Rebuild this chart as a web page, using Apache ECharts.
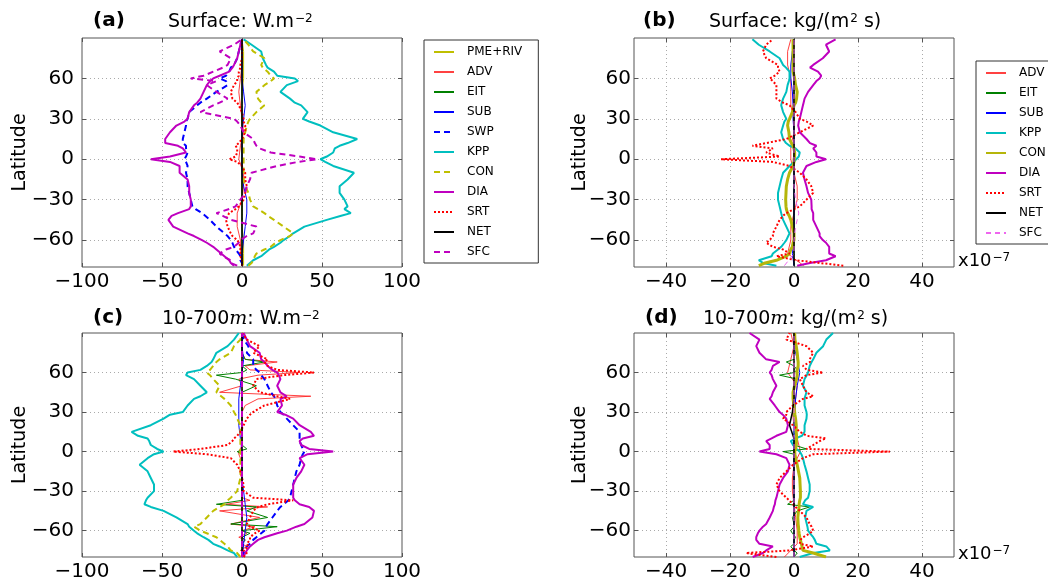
<!DOCTYPE html>
<html>
<head>
<meta charset="utf-8">
<script src="https://cdn.jsdelivr.net/npm/echarts@6/dist/echarts.min.js"></script>
<style>
  html, body { margin: 0; padding: 0; background: #fff; }
  #main { width: 1048px; height: 582px; }
</style>
</head>
<body>
<div id="main"></div>
<script>
// latitude grids (surface panels end at 89, 10-700m panels at 90)
var LAT = [-79,-77,-75,-72,-70,-67,-65,-62,-60,-57,-55,-50,-45,-42,-40,-37,-35,-30,-25,-20,-15,-10,-5,-2,0,2,5,8,10,12,15,20,25,28,30,35,40,42,45,50,55,58,60,62,65,68,70,75,80,85,89];
var LAT_SUB = [-80,-77,-75,-72,-70,-67,-65,-62,-60,-57,-55,-50,-45,-42,-40,-37,-35,-30,-25,-20,-15,-10,-5,-2,0,2,5,8,10,12,15,20,25,28,30,35,40,42,45,50,55,58,60,62,65,68,70,75,80,85,90];
var COARSE = [-79,-70,-60,-50,-40,-30,-20,-10,0,10,20,30,40,50,60,70,80,89];
var COARSE_SUB = [-80,-70,-60,-50,-40,-30,-20,-10,0,10,20,30,40,50,60,70,80,90];

var latTicks = [-60, -30, 0, 30, 60];
var wTicks = [-100, -50, 0, 50, 100];
var kgTicks = [-40, -20, 0, 20, 40];

// (a) Surface heat, W/m2
var a_PME = [1,1,1,0,0,0,0,0,0,0,0,0,0,0,1,1,1,0];
var a_ADV = [0,-1,-1,-3,-3,0,1,1,-2,-1,1,0,-1,-2,-1,0,0,0];
var a_EIT = [0,0,0,0,0,0,0,0,0,0,0,0,0,0,0,0,0,0];
var a_SUB = [0,0,1,2,3,3,1,0,0,0,0,1,2,1,0,0,0,0];
var a_SWP = [0,0,-1,-1,-2, -4,-5,-6,-7,-9, -11,-16,-20,-23,-25, -29,-31,-32,-33,-34, -34,-35,-34,-35,-36, -35,-34,-35,-35,-37, -37,-36,-35,-35,-34, -33,-28,-26,-22,-16, -9,-10,-14,-10,-8, -7,-5,-3,-2,-1, 0];
var a_KPP = [3,5,7,12,14, 17,20,24,26,30, 32,39,53,62,68, 64,66,64,61,61, 66,70,57,52,49, 53,57,58,61,66, 72,57,49,42,38, 41,37,33,30,24, 28,35,33,22,20, 16,15,13,12,6, 1];
var a_CON = [4,6,7,8,9, 14,18,21,24,30, 32,26,20,16,14, 10,7,5,4,2, 1,1,1,1,1, 1,1,1,1,1, 1,2,3,4,5, 9,14,12,10,9, 14,18,20,18,16, 13,12,14,7,4, 1];
var a_DIA = [-5,-7,-8,-11,-13, -16,-18,-22,-25,-30, -34,-43,-46,-44,-40, -33,-32,-32,-33,-33, -34,-39,-39,-45,-57, -45,-35,-37,-40,-48, -48,-45,-41,-36,-34, -33,-30,-28,-26,-24, -22,-20,-18,-14,-8, -6,-5,-3,-2,-1, 0];
var a_SRT = [0,0,0,-1,-1, -1,-1,-2,-3,-6, -7,-9,-10,-9,-8, -4,-2,1,2,3, 2,2,0,-3,-8, -4,-3,-3,-4,-2, 0,2,2,1,1, 0,-2,-3,-6,-7, -5,-3,-3,-2,-2, -1,-1,0,0,0, 0];
var a_NET = [0,0,0,0,0,0,0,0,0,0,0,0,0,0,0,0,0,0];
var a_SFC = [-3,-7,-7,-12,-14, -10,-5,-2,-1,3, 7,9,-7,-12,-16, -8,-4,-1,2,3, 5,6,22,35,47, 36,18,11,9,8, 7,1,-1,-3,-5, -26,-18,-14,-9,-16, -22,-16,-32,-24,-18, -12,-9,-7,-14,-5, 0];

// (b) Surface salt, kg/(m2 s) x1e-7
var b_ADV = [3,-2,-1,-1,0,1,1,0,-1,-1,0,0,-1,-1,-1,-2,-2,-1];
var b_EIT = [0,0,0,0,0,0,0,0,0,0,0,0,0,0,0,-0.5,-0.5,0];
var b_SUB = [0,-0.5,0,0,0,0,0,0,0,0,0,-0.3,-0.3,-0.5,-1,-1,-0.5,0];
var b_KPP = [-5.5,-9.7,-11,-7,-6.6, -5,-4,-3,-2.4,-1.8, -1.4,-2.4,-3.4,-3.8,-4, -4.3,-4.5,-5,-5,-4.5, -4,-3.4,-1.4,0,0.7, 1.5,1.8,0.5,-1.4,-2.5, -3.4,-4,-3.4,-3,-2.4, -3.4,-4,-3.8,-3.4,-2.4, -2,-1.6,-1.4,-1.4,-1.4, -2.5,-3.4,-4.5,-7.6,-11, -13];
var b_CON = [-11,-9,-5.5,-2.4,-1.4, -1,-0.5,-0.3,0,0, 0,-0.5,-1,-1.5,-2, -2.4,-2.5,-2.6,-2.5,-2.4, -2,-1.4,-0.3,0,0, 0.2,0.2,0,-0.3,-0.8, -1.4,-1.6,-2,-1.8,-1.4, -0.5,0,0.5,0.8,1, 0.5,0.3,0.2,0,-0.3, -0.3,-0.3,-0.3,-0.3,-0.3, -0.3];
var b_DIA = [1,5,10,13,11, 11,11,10,9,8, 8,7,6,6,6, 5.5,5.5,5.4,4.4,3.9, 3.3,2.8,3.9,7,10, 7,7,6,7,5, 3.9,1.8,1.3,1.5,1.8, 2.3,2.8,3,3.3,4.4, 6,7,8,8.5,7.5, 5,6,9,11,10, 13];
var b_SRT = [15.4,8,0.7,-5.5,-1.4, -3.4,-6.6,-8.7,-7.6,-6.6, -6.6,-5.5,-4.5,-3.4,-2.4, 0,1.8,3.9,6,5.4, 3.9,1.8,-1.4,-6.6,-22.8, -4.5,-8.7,-6.6,-13,-8.7, -2.4,1.8,6,3.9,1.8, 0.5,-1.4,-3.4,-5.5,-5.5, -5.5,-6.6,-7.6,-6,-4.5, -5,-5,-8.7,-9.7,-8.7, -6.6];
var b_NET = [0,0,0,0,0,0,0,0,0,0,0,0,0,0,0,0,0,0];
var b_SFC = [-3,0,0,0.5,1.5,0.5,0,0,0,0,0,0,0,0,0,0,0,0];

// (c) 10-700m heat, W/m2
var c_PME = [0,0,0,0,0,0,0,0,0,0,0,0,0,0,0,0,0,0];
var c_ADV = [0,2,-1,3,0, 2,-2,3,0,8, -7,11,-14,16,-10, 5,0,0,0,0, 0,0,-1,-2,-2, -1,0,0,0,0, 0,0,0,0,0, 2,10,43,-14,0, -2,10,36,5,2, 22,2,0,0,0, 0];
var c_EIT = [0,2,0,1,0, 2,0,5,0,22, -7,16,3,9,-16, 0,0,0,0,0, 0,0,0,0,-3, 3,0,0,0,0, 0,0,0,0,0, 0,0,0,0,9, -4,-16,0,3,0, 14,2,0,0,0, 0];
var c_SUB = [0,1,2,3,2,1,0,0,0,-1,-2,-2,-2,-1,0,1,0,0];
var c_SWP = [0,1,2,3,5, 7,9,12,14,15, 16,19,22,24,26, 29,30,31,32,33, 34,36,37,38,39, 38,37,36,36,36, 36,32,28,26,24, 22,21,20,18,16, 14,12,11,9,7, 7,7,3,4,1, 0];
var c_KPP = [-3,-5,-9,-14,-18, -21,-24,-28,-30,-33, -34,-41,-49,-57,-61, -60,-59,-55,-55,-57, -59,-64,-59,-55,-49, -53,-57,-58,-59,-65, -69,-57,-49,-45,-37, -34,-30,-26,-22,-26, -30,-35,-34,-26,-22, -19,-18,-16,-9,-5, -2];
var c_CON = [-1,-3,-7,-9,-11, -14,-16,-22,-26,-30, -26,-22,-18,-14,-11, -9,-7,-3,-2,-1, -1,-1,-1,-1,-1, -1,-1,-1,-1,-1, -1,-1,-3,-4,-5, -7,-11,-13,-16,-14, -18,-20,-22,-20,-18, -16,-14,-7,-5,-1, 0];
var c_DIA = [1,2,3,5,7, 10,14,22,28,34, 39,44,45,42,36, 33,32,32,32,34, 37,39,36,41,57, 42,37,36,38,45, 43,36,32,27,22, 25,24,28,24,22, 24,23,22,19,16, 14,12,11,5,3, 1];
var c_SRT = [1,3,1,4,3, 5,5,8,11,5, 3,5,7,10,16, 32,7,1,1,0, -1,-3,-7,-22,-43, -26,-9,-6,-5,-3, -1,1,3,5,7, 14,30,22,11,7, 9,26,45,22,16, 14,16,7,11,3, 0];
var c_NET = [0,0,0,0,0,0,0,0,0,0,0,0,0,0,0,0,0,0];
var c_SFC = [0,0,0,0,0,0,0,0,0,0,0,0,0,0,0,0,0,0];

// (d) 10-700m salt, kg/(m2 s) x1e-7
var d_ADV = [-3,1,1,0.5,0,-0.5,-0.5,0,2,1,0,-0.5,0.5,1,-2,-1,0,-1];
var d_EIT = [0,1,0,-1,0, 0,0.5,-0.5,-1,0, 0,-0.5,1,4.9,-2, 0,0,0,0,0, 0,0,0,0,-3.4, 3.9,0,0,0,0, 0,0,0,0,0, 0,0.5,0,0,0, 1,-4.5,0,1,0, -2.4,0,0,0,0, 0];
var d_SUB = [0,0,0,0,0,0,0,0,0,0,0,0.3,0.5,1,1.8,1,0,0];
var d_KPP = [1.8,6,11.2,10.1,7, 6.5,6,5,4.4,4.2, 4,3.5,3.9,6,2.8, 3.5,4.4,4.9,4.9,4.4, 3.9,3.3,2.8,2.3,1.8, 0.8,-0.3,-1,0.5,2.5, 3.3,3.3,3.9,4,3.9, 3.3,3.3,3.5,3.9,2.8, 3.3,4,4.4,4.6,4.9, 5.5,6,7,9.1,10.1, 12.2];
var d_CON = [10,6,2.8,2.5,2.3, 2,1.8,1.6,1.5,1.4, 1.3,1.2,1.4,1.6,1.6, 1.8,2,2,1.9,1.8, 1.4,1,0.5,0.3,0.2, 0.5,0.7,0.8,0.8,0.8, 0.7,0.7,0.5,0.3,0.2, 0,-0.3,-0.3,-0.3,0.2, 0.8,1,0.9,1,1.3, 1.3,1.2,1,0.7,0.3, 0.2];
var d_DIA = [-12.9,-9.7,-8.7,-6.6,-10.8, -11.8,-11.8,-11.3,-10.8,-9.7, -8.7,-7.6,-6.6,-6.3,-6, -5.8,-5.5,-5,-4.5,-3.4, -1.9,-1.4,-2.4,-5.5,-10.8, -7.6,-7.6,-8.7,-7,-5.5, -2.4,-1.9,-2.4,-3.5,-4.5, -6,-7.6,-7,-6.6,-5.5, -6.6,-7,-7.6,-7,-6.6, -4.5,-8.7,-10.8,-11.8,-10.8, -13.9];
var d_SRT = [-5.5,-15,-1.4,6,1.8, 2,2.8,5,6,5.5, 4.9,3.9,1.8,0.5,-0.3, -1.5,-2.4,-4.5,-5.5,-4.5, -2.4,-0.3,2.8,6,30, 3.9,6,8,10,4, 1.8,-0.3,-3.4,-2.4,-2.4, -0.3,2.8,6,3.9,2.8, 1.8,3.9,9.1,4,2.8, 5,4.9,6,3.9,-2.4, -1.4];
var d_NET = [0,0,0,0,0,0,0,0,0,0,-1.4,-0.5,0,0,0,0,0,0];
var d_SFC = [0,0,0,0,0,0,0,0,0,0,0,0,0,0,0,0,0,0];

var FONT = "DejaVu Sans";

// line styles per term
var st = {
    PME: { color: "#bfbf00", width: 1 },
    ADV: { color: "#ff2020", width: 1, opacity: 0.85 },
    EIT: { color: "#008000", width: 1 },
    SUB: { color: "#0000ff", width: 1 },
    SWP: { color: "#0000ff", width: 2, type: [6, 4] },
    KPP: { color: "#00bfbf", width: 2 },
    CON: { color: "#bfbf00", width: 2, type: [6, 4] },
    CONs: { color: "#b5b50a", width: 3 },
    DIA: { color: "#bf00bf", width: 2 },
    SRT: { color: "#ff0000", width: 2, type: [2, 2] },
    NET: { color: "#000000", width: 1.5 },
    SFC: { color: "#bf00bf", width: 2, type: [6, 4] },
    SFCs: { color: "#ee66ee", width: 1, type: [5, 4] }
};

function line(name, panel, lats, vals, style) {
    var pts = [];
    for (var i = 0; i < vals.length; i++) {
        pts.push([vals[i], lats[i]]);
    }
    return {
        type: "line", name: name, xAxisIndex: panel, yAxisIndex: panel,
        data: pts, symbol: "none", showSymbol: false, silent: true,
        animation: false, lineStyle: style, itemStyle: { color: style.color }
    };
}

var series = [
    line("PME+RIV", 0, COARSE, a_PME, st.PME),
    line("ADV", 0, COARSE, a_ADV, st.ADV),
    line("EIT", 0, COARSE, a_EIT, st.EIT),
    line("SUB", 0, COARSE, a_SUB, st.SUB),
    line("SWP", 0, LAT, a_SWP, st.SWP),
    line("KPP", 0, LAT, a_KPP, st.KPP),
    line("CON", 0, LAT, a_CON, st.CON),
    line("DIA", 0, LAT, a_DIA, st.DIA),
    line("SRT", 0, LAT, a_SRT, st.SRT),
    line("NET", 0, COARSE, a_NET, st.NET),
    line("SFC", 0, LAT, a_SFC, st.SFC),

    line("b:ADV", 1, COARSE, b_ADV, st.ADV),
    line("b:EIT", 1, COARSE, b_EIT, st.EIT),
    line("b:SUB", 1, COARSE, b_SUB, st.SUB),
    line("b:KPP", 1, LAT, b_KPP, st.KPP),
    line("b:CON", 1, LAT, b_CON, st.CONs),
    line("b:DIA", 1, LAT, b_DIA, st.DIA),
    line("b:SRT", 1, LAT, b_SRT, st.SRT),
    line("b:NET", 1, COARSE, b_NET, st.NET),
    line("b:SFC", 1, COARSE, b_SFC, st.SFCs),

    line("PME+RIV", 2, COARSE_SUB, c_PME, st.PME),
    line("ADV", 2, LAT_SUB, c_ADV, st.ADV),
    line("EIT", 2, LAT_SUB, c_EIT, st.EIT),
    line("SUB", 2, COARSE_SUB, c_SUB, st.SUB),
    line("SWP", 2, LAT_SUB, c_SWP, st.SWP),
    line("KPP", 2, LAT_SUB, c_KPP, st.KPP),
    line("CON", 2, LAT_SUB, c_CON, st.CON),
    line("DIA", 2, LAT_SUB, c_DIA, st.DIA),
    line("SRT", 2, LAT_SUB, c_SRT, st.SRT),
    line("NET", 2, COARSE_SUB, c_NET, st.NET),
    line("SFC", 2, COARSE_SUB, c_SFC, st.SFC),

    line("b:ADV", 3, COARSE_SUB, d_ADV, st.ADV),
    line("b:EIT", 3, LAT_SUB, d_EIT, st.EIT),
    line("b:SUB", 3, COARSE_SUB, d_SUB, st.SUB),
    line("b:KPP", 3, LAT_SUB, d_KPP, st.KPP),
    line("b:CON", 3, LAT_SUB, d_CON, st.CONs),
    line("b:DIA", 3, LAT_SUB, d_DIA, st.DIA),
    line("b:SRT", 3, LAT_SUB, d_SRT, st.SRT),
    line("b:NET", 3, COARSE_SUB, d_NET, st.NET),
    line("b:SFC", 3, COARSE_SUB, d_SFC, st.SFCs)
];

var grids = [
    { left: 82, top: 38, width: 320, height: 229 },
    { left: 634, top: 38, width: 320, height: 229 },
    { left: 82, top: 333, width: 320, height: 230 },
    { left: 634, top: 333, width: 320, height: 230 }
];

function minus(v) { return String(v).replace("-", "\u2212"); }

var gridLine = { show: true, lineStyle: { color: "#aaa", type: [1, 3], width: 1 } };
var tickStyle = { color: "#555" };
var noLine = { show: false, onZero: false };

function xAx(i, lo, hi, ticks) {
    return {
        type: "value", gridIndex: i, min: lo, max: hi, position: "bottom",
        axisLine: noLine,
        axisTick: { show: true, inside: true, length: 4, customValues: ticks, lineStyle: tickStyle },
        axisLabel: { customValues: ticks, formatter: minus, color: "#000", fontSize: 20, fontFamily: FONT, margin: 5 },
        splitLine: gridLine
    };
}
function xTop(i, lo, hi, ticks) {
    return {
        type: "value", gridIndex: i, min: lo, max: hi, position: "top",
        axisLine: noLine,
        axisTick: { show: true, inside: true, length: 4, customValues: ticks, lineStyle: tickStyle },
        axisLabel: { show: false }, splitLine: { show: false }
    };
}
function yAx(i, gap, margin) {
    return {
        type: "value", gridIndex: i, min: -80, max: 90, position: "left",
        name: "Latitude", nameLocation: "middle", nameGap: gap, nameRotate: 90,
        nameMoveOverlap: false,
        nameTextStyle: { color: "#000", fontSize: 19, fontFamily: FONT },
        axisLine: noLine,
        axisTick: { show: true, inside: true, length: 4, customValues: latTicks, lineStyle: tickStyle },
        axisLabel: { customValues: latTicks, formatter: minus, color: "#000", fontSize: 20, fontFamily: FONT, margin: margin },
        splitLine: gridLine
    };
}
function yRight(i) {
    return {
        type: "value", gridIndex: i, min: -80, max: 90, position: "right",
        axisLine: noLine,
        axisTick: { show: true, inside: true, length: 4, customValues: latTicks, lineStyle: tickStyle },
        axisLabel: { show: false }, splitLine: { show: false }
    };
}

var rich = {
    b: { fontWeight: "bold", fontSize: 20, fontFamily: FONT },
    i: { fontStyle: "italic", fontSize: 19, fontFamily: "DejaVu Serif" },
    s: { fontSize: 12, fontFamily: FONT, verticalAlign: "top", padding: [0, 0, 0, 1] }
};

function titleText(x, y, txt, size) {
    return {
        type: "text", x: x, y: y, silent: true,
        style: {
            text: txt, verticalAlign: "middle", fill: "#000",
            font: (size || 19) + "px " + FONT, rich: rich
        }
    };
}

var legendText = { color: "#000", fontSize: 12, fontFamily: FONT, padding: [0, 0, 0, 8] };

var option = {
    backgroundColor: "#fff",
    animation: false,
    grid: grids.map(function (g) {
        return { left: g.left, top: g.top, width: g.width, height: g.height, show: true,
                 borderColor: "#555", borderWidth: 1, backgroundColor: "transparent" };
    }),
    xAxis: [xAx(0, -100, 100, wTicks), xAx(1, -50, 50, kgTicks), xAx(2, -100, 100, wTicks), xAx(3, -50, 50, kgTicks),
            xTop(0, -100, 100, wTicks), xTop(1, -50, 50, kgTicks), xTop(2, -100, 100, wTicks), xTop(3, -50, 50, kgTicks)],
    yAxis: [yAx(0, 52, 8), yAx(1, 44, 3), yAx(2, 52, 8), yAx(3, 44, 3),
            yRight(0), yRight(1), yRight(2), yRight(3)],
    legend: [
        {
            orient: "vertical", left: 424, top: 40, selectedMode: false,
            itemWidth: 20, itemHeight: 10, itemGap: 8,
            padding: [6, 16, 5, 9], borderColor: "#333", borderWidth: 1,
            itemStyle: { opacity: 0 },
            textStyle: legendText,
            data: ["PME+RIV", "ADV", "EIT", "SUB", "SWP", "KPP", "CON", "DIA", "SRT", "NET", "SFC"]
        },
        {
            orient: "vertical", left: 976, top: 61, selectedMode: false,
            itemWidth: 20, itemHeight: 10, itemGap: 8,
            padding: [6, 30, 5, 9], borderColor: "#333", borderWidth: 1,
            itemStyle: { opacity: 0 },
            textStyle: legendText,
            formatter: function (n) { return n.replace("b:", ""); },
            data: ["b:ADV", "b:EIT", "b:SUB", "b:KPP", "b:CON", "b:DIA", "b:SRT", "b:NET", "b:SFC"]
        }
    ],
    graphic: [
        titleText(93, 21, "{b|(a)}"),
        titleText(168, 22, "Surface: W.m{s|\u22122}"),
        titleText(643, 21, "{b|(b)}"),
        titleText(709, 22, "Surface: kg/(m{s|2} s)"),
        titleText(93, 318, "{b|(c)}"),
        titleText(162, 319, "10-700{i|m}: W.m{s|\u22122}"),
        titleText(645, 318, "{b|(d)}"),
        titleText(703, 319, "10-700{i|m}: kg/(m{s|2} s)"),
        titleText(958, 261, "x10{s|\u22127}", 18),
        titleText(958, 554, "x10{s|\u22127}", 18)
    ],
    series: series
};

var chart = echarts.init(document.getElementById("main"));
chart.setOption(option);
</script>
</body>
</html>
